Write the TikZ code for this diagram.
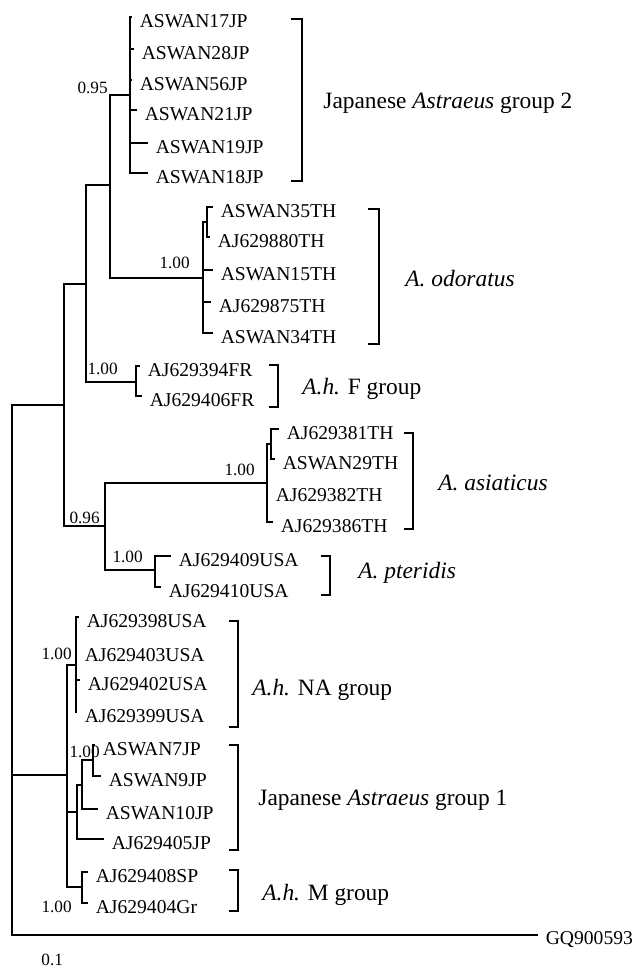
\documentclass[tikz,border=0pt]{standalone}
\usepackage{fontspec}
\setmainfont{Liberation Serif}
\usepackage{tikz}
\usetikzlibrary{positioning}

\begin{document}
\begin{tikzpicture}[
        x=0.5pt, y=-0.5pt,
        branch/.style={line width=1pt, line cap=rect},
        clade/.style={line width=1.1pt},
        leaf/.style={anchor=west, inner xsep=4.2pt, inner ysep=0pt, text height=10.5pt, text depth=0pt, font=\fontsize{9.8pt}{11pt}\selectfont},
        support/.style={anchor=east, inner sep=0pt, font=\fontsize{8.6pt}{10pt}\selectfont},
        group/.style={anchor=west, inner sep=0pt, font=\fontsize{11.7pt}{14pt}\selectfont}
    ]
        \useasboundingbox (0,0) rectangle (634,971);

        % ===== internal nodes =====
        \coordinate (root) at (12,405);
        \coordinate (upper) at (64,405);
        \coordinate (nB) at (86,284);
        \coordinate (nC) at (110,185);
        \coordinate (jp2) at (130,95);
        \coordinate (odor) at (203,278);
        \coordinate (odorSub) at (207,222);
        \coordinate (fgrp) at (136,382);
        \coordinate (n096) at (105,526);
        \coordinate (asia) at (267,483);
        \coordinate (asiaSub) at (271,444);
        \coordinate (pter) at (155,570);
        \coordinate (lower) at (67,775);
        \coordinate (nagrp) at (76,665);
        \coordinate (jp1) at (77,812);
        \coordinate (jp1b) at (82,785);
        \coordinate (jp1c) at (93,760);
        \coordinate (mgrp) at (82,887);

        % ===== leaves =====
        \node (s17) [leaf] at (131,17) {ASWAN17JP};
        \node (s28) [leaf] at (133,49) {ASWAN28JP};
        \node (s56) [leaf] at (131,80) {ASWAN56JP};
        \node (s21) [leaf] at (136,110) {ASWAN21JP};
        \node (s19) [leaf] at (147,143) {ASWAN19JP};
        \node (s18) [leaf] at (147,173) {ASWAN18JP};

        \node (s35) [leaf] at (212,207) {ASWAN35TH};
        \node (a880) [leaf] at (209,237) {AJ629880TH};
        \node (s15) [leaf] at (212,270) {ASWAN15TH};
        \node (a875) [leaf] at (210,302) {AJ629875TH};
        \node (s34) [leaf] at (212,333) {ASWAN34TH};

        \node (a394) [leaf] at (139,366) {AJ629394FR};
        \node (a406) [leaf] at (141,396) {AJ629406FR};

        \node (a381) [leaf] at (278,429) {AJ629381TH};
        \node (s29) [leaf] at (274,459) {ASWAN29TH};
        \node (a382) [leaf] at (267,491) {AJ629382TH};
        \node (a386) [leaf] at (272,522) {AJ629386TH};

        \node (a409) [leaf] at (170,556) {AJ629409USA};
        \node (a410) [leaf] at (160,587) {AJ629410USA};

        \node (a398) [leaf] at (78,617) {AJ629398USA};
        \node (a403) [leaf] at (76,651) {AJ629403USA};
        \node (a402) [leaf] at (79,680) {AJ629402USA};
        \node (a399) [leaf] at (76,712) {AJ629399USA};

        \node (s7) [leaf] at (94,745) {ASWAN7JP};
        \node (s9) [leaf] at (100,776) {ASWAN9JP};
        \node (s10) [leaf] at (97,809) {ASWAN10JP};
        \node (a405) [leaf] at (103,839) {AJ629405JP};

        \node (a408) [leaf] at (87,872) {AJ629408SP};
        \node (a404) [leaf] at (87,903) {AJ629404Gr};

        \node (gq) [leaf, text height=9.5pt] at (537,935) {GQ900593};

        % ===== branches =====
        \draw [branch] (root) |- (upper);
        \draw [branch] (root) |- (lower);
        \draw [branch] (root) |- (gq.west);

        \draw [branch] (upper) |- (nB);
        \draw [branch] (upper) |- (n096);
        \draw [branch] (nB) |- (nC);
        \draw [branch] (nB) |- (fgrp);
        \draw [branch] (nC) |- (jp2);
        \draw [branch] (nC) |- (odor);

        \draw [branch] (jp2) |- (s17.west);
        \draw [branch] (jp2) |- (s28.west);
        \draw [branch] (jp2) |- (s56.west);
        \draw [branch] (jp2) |- (s21.west);
        \draw [branch] (jp2) |- (s19.west);
        \draw [branch] (jp2) |- (s18.west);

        \draw [branch] (odor) |- (odorSub);
        \draw [branch] (odorSub) |- (s35.west);
        \draw [branch] (odorSub) |- (a880.west);
        \draw [branch] (odor) |- (s15.west);
        \draw [branch] (odor) |- (a875.west);
        \draw [branch] (odor) |- (s34.west);

        \draw [branch] (fgrp) |- (a394.west);
        \draw [branch] (fgrp) |- (a406.west);

        \draw [branch] (n096) |- (asia);
        \draw [branch] (n096) |- (pter);
        \draw [branch] (asia) |- (asiaSub);
        \draw [branch] (asiaSub) |- (a381.west);
        \draw [branch] (asiaSub) |- (s29.west);
        \draw [branch] (asia) |- (a382.west);
        \draw [branch] (asia) |- (a386.west);
        \draw [branch] (pter) |- (a409.west);
        \draw [branch] (pter) |- (a410.west);

        \draw [branch] (lower) |- (nagrp);
        \draw [branch] (lower) |- (jp1);
        \draw [branch] (lower) |- (mgrp);
        \draw [branch] (nagrp) |- (a398.west);
        \draw [branch] (nagrp) |- (a403.west);
        \draw [branch] (nagrp) |- (a402.west);
        \draw [branch] (nagrp) |- (a399.west);

        \draw [branch] (jp1) |- (jp1b);
        \draw [branch] (jp1) |- (a405.west);
        \draw [branch] (jp1b) |- (jp1c);
        \draw [branch] (jp1b) |- (s10.west);
        \draw [branch] (jp1c) |- (s7.west);
        \draw [branch] (jp1c) |- (s9.west);

        \draw [branch] (mgrp) |- (a408.west);
        \draw [branch] (mgrp) |- (a404.west);

        % ===== support values =====
        \node (b095) [support] at (108,88) {0.95};
        \node (bOdor) [support] at (190,263) {1.00};
        \node (bF) [support] at (118,369) {1.00};
        \node (bAsia) [support] at (255,470) {1.00};
        \node (b096) [support] at (100,518) {0.96};
        \node (bPter) [support] at (143,557) {1.00};
        \node (bNA) [support] at (72,654) {1.00};
        \node (bJp1) [support] at (100,752) {1.00};
        \node (bM) [support] at (72,907) {1.00};

        % ===== clade brackets =====
        \foreach \bx/\btop/\bbot/\btick in {302/19/181/11, 379/209/344/11, 278/365/407/9,
                413/433/529/9, 330/556/595/9, 238/621/727/9, 238/745/850/9, 238/870/911/9}
            \draw [clade] (\bx-\btick,\btop) -- (\bx,\btop) -- (\bx,\bbot) -- (\bx-\btick,\bbot);

        \node (gJp2) [group] at (323,103) {Japanese \textit{Astraeus} group 2};
        \node (gOdor) [group] at (405,279) {\textit{A. odoratus}};
        \node (gF) [group] at (302,389) {\textit{A.h.} F group};
        \node (gAsia) [group] at (438,483) {\textit{A. asiaticus}};
        \node (gPter) [group] at (358,573) {\textit{A. pteridis}};
        \node (gNA) [group] at (252,690) {\textit{A.h.} NA group};
        \node (gJp1) [group] at (258,800) {Japanese \textit{Astraeus} group 1};
        \node (gM) [group] at (262,895) {\textit{A.h.} M group};

        % ===== scale =====
        \node (scale) [support, anchor=west] at (41,960) {0.1};

    \end{tikzpicture}
\end{document}
